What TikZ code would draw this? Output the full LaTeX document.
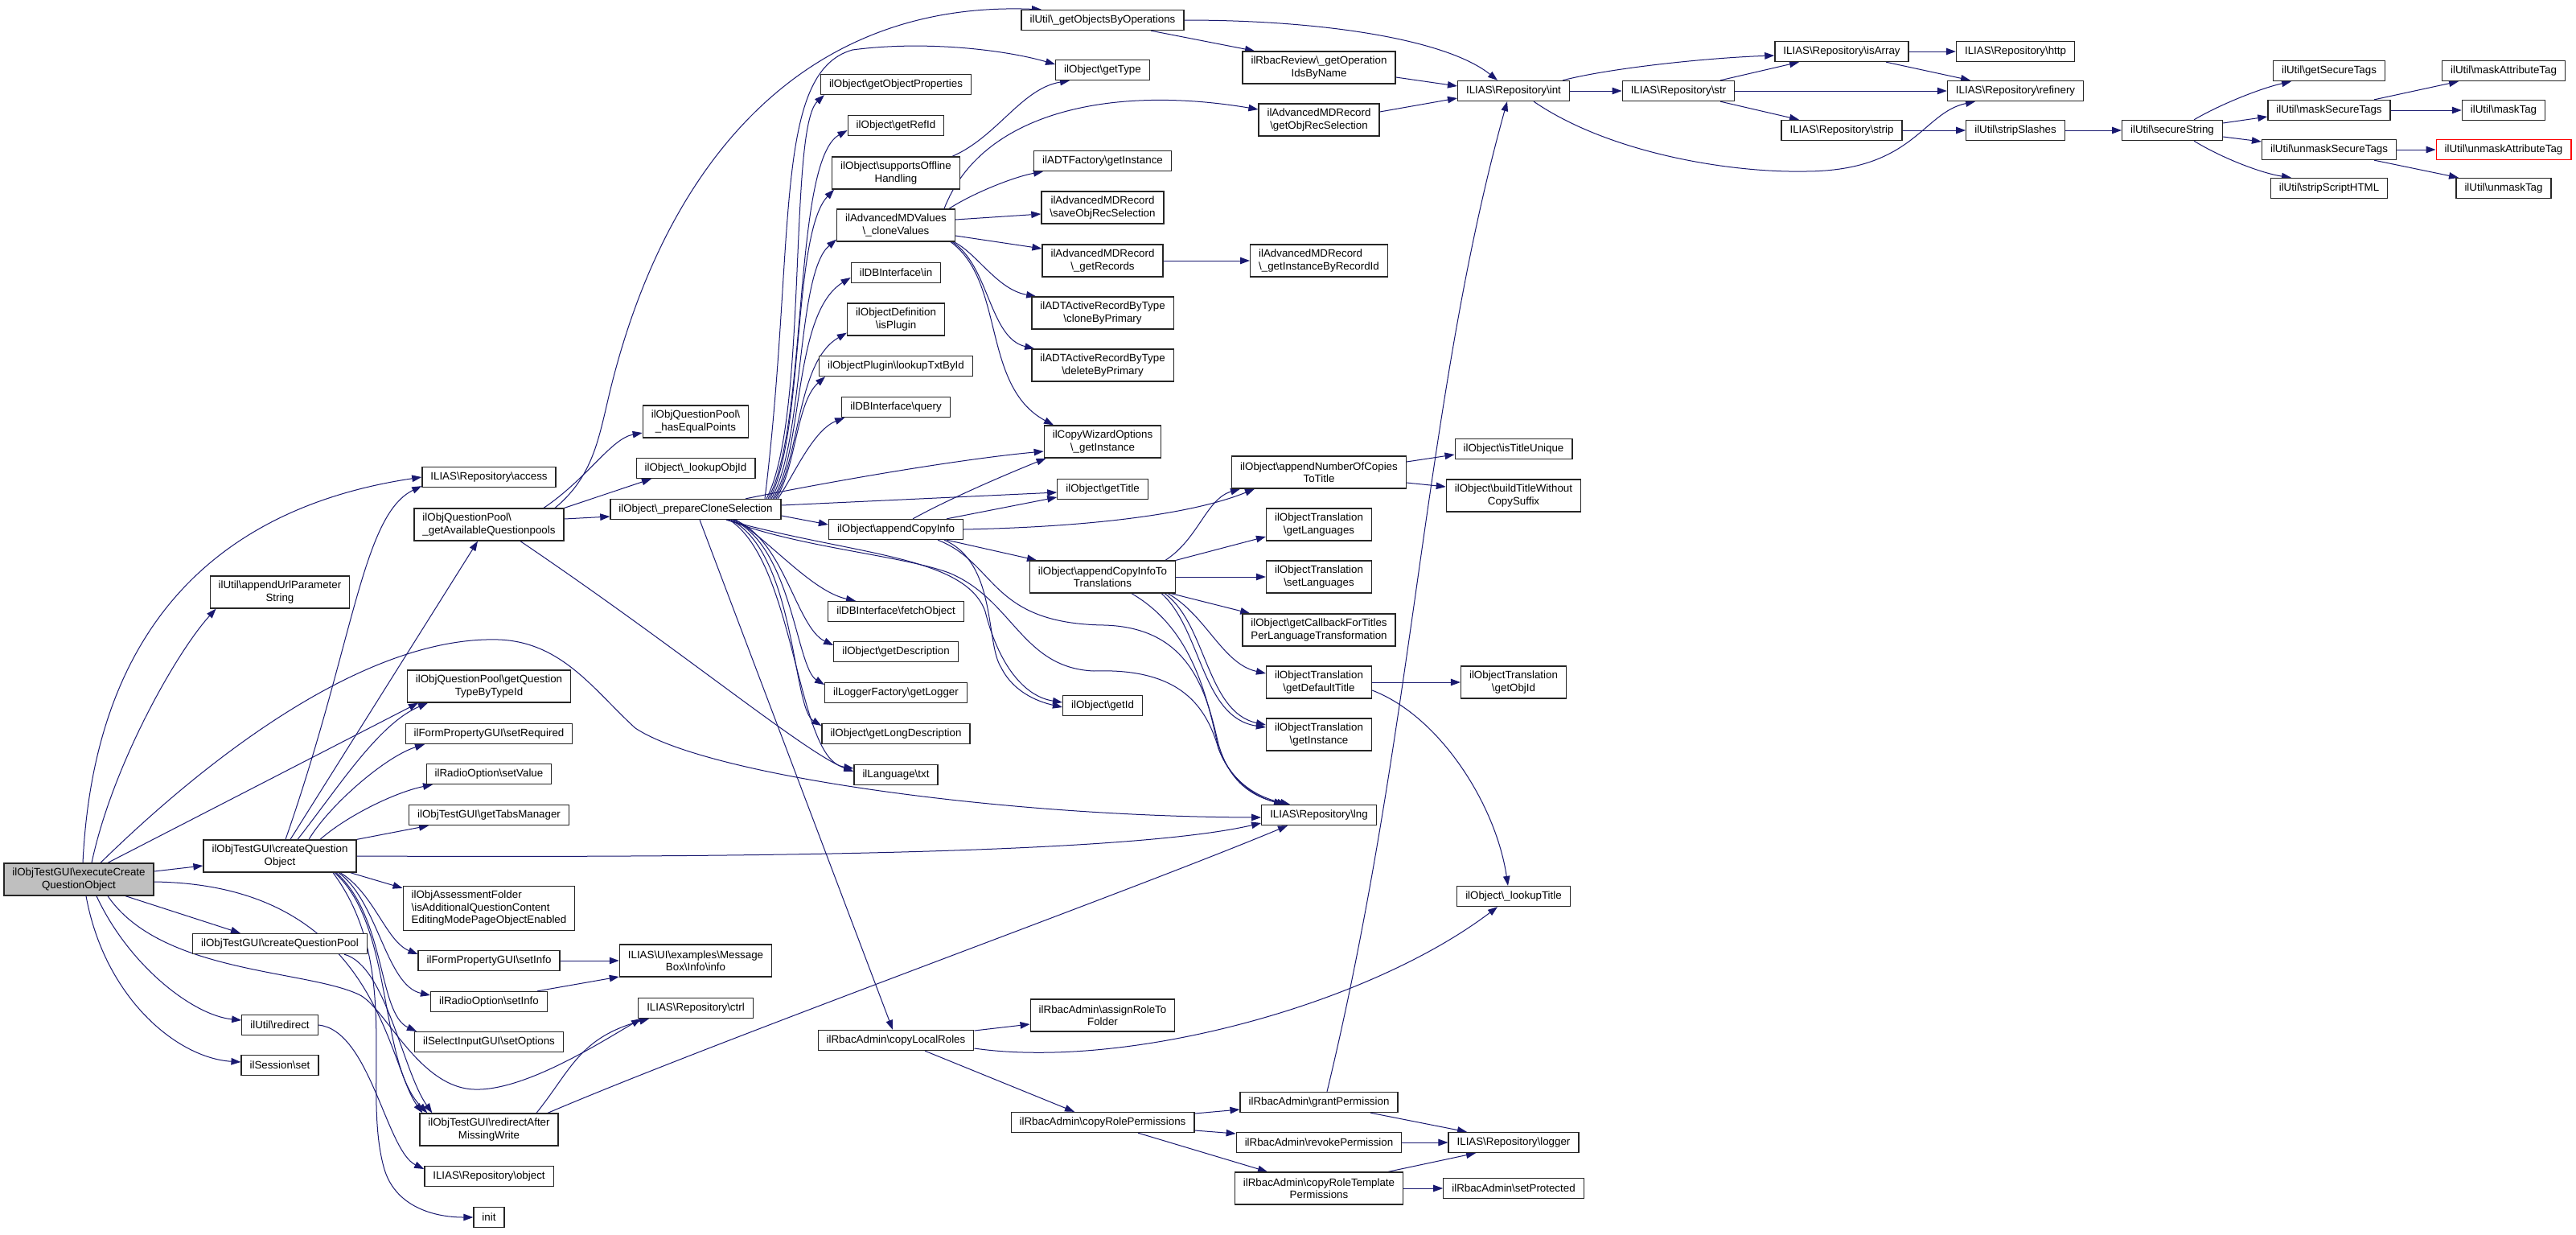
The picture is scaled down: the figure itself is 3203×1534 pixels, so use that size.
\documentclass[tikz,border=0pt]{standalone}
\usepackage{fontspec}
\setmainfont{Liberation Sans}
\usetikzlibrary{arrows.meta}
\definecolor{edgec}{HTML}{191970}
\definecolor{mainfill}{HTML}{BFBFBF}
\newcommand{\bs}{\textbackslash}
\pgfdeclarelayer{bg}
\pgfsetlayers{bg,main}
\begin{document}
\begin{tikzpicture}[x=1pt,y=-1pt,
  nb/.style={draw=black!85, fill=white, line width=1.3pt, inner xsep=10.5pt, inner ysep=0pt,
    minimum height=25pt, font=\fontsize{13.33}{15.5}\selectfont, align=center},
  n2/.style={nb, minimum height=40pt},
  n3/.style={nb, minimum height=55pt},
  ed/.style={draw=edgec, line width=1pt, -{Triangle[length=12pt,width=8.5pt]}}]
\useasboundingbox (0,0) rectangle (3203,1534);
% column 0/1
\node[n2, fill=mainfill] (E) at (98,1093) {ilObjTestGUI\bs executeCreate\\QuestionObject};
\node[n2] (appendUrl) at (348,736) {ilUtil\bs appendUrlParameter\\String};
\node[n2] (C) at (348,1064) {ilObjTestGUI\bs createQuestion\\Object};
\node[nb] (cQP) at (348,1173) {ilObjTestGUI\bs createQuestionPool};
\node[nb] (redirect) at (348,1274) {ilUtil\bs redirect};
\node[nb] (sess) at (348,1324) {ilSession\bs set};
% column 2
\node[nb] (access) at (608,593) {ILIAS\bs Repository\bs access};
\node[n2, align=left] (getAvail) at (608,652) {ilObjQuestionPool\bs\\\_getAvailableQuestionpools};
\node[n2] (getQType) at (608,853) {ilObjQuestionPool\bs getQuestion\\TypeByTypeId};
\node[nb] (setRequired) at (608,912) {ilFormPropertyGUI\bs setRequired};
\node[nb] (setValue) at (608,962) {ilRadioOption\bs setValue};
\node[nb] (getTabs) at (608,1013) {ilObjTestGUI\bs getTabsManager};
\node[n3, align=left] (AF) at (608,1129) {ilObjAssessmentFolder\\\bs isAdditionalQuestionContent\\EditingModePageObjectEnabled};
\node[nb] (setInfoF) at (608,1194) {ilFormPropertyGUI\bs setInfo};
\node[nb] (setInfoR) at (608,1245) {ilRadioOption\bs setInfo};
\node[nb] (setOptions) at (608,1295) {ilSelectInputGUI\bs setOptions};
\node[n2] (redirAfter) at (608,1404) {ilObjTestGUI\bs redirectAfter\\MissingWrite};
\node[nb] (object) at (608,1462) {ILIAS\bs Repository\bs object};
\node[nb] (init) at (608,1513) {init};
% column 3
\node[n2] (hasEq) at (865,524) {ilObjQuestionPool\bs\\\_hasEqualPoints};
\node[nb] (lookupObjId) at (865,582) {ilObject\bs\_lookupObjId};
\node[nb] (P) at (865,633) {ilObject\bs\_prepareCloneSelection};
\node[n2] (MsgInfo) at (865,1194) {ILIAS\bs UI\bs examples\bs Message\\Box\bs Info\bs info};
\node[nb] (ctrl) at (865,1253) {ILIAS\bs Repository\bs ctrl};
% column 4
\node[nb] (gOP) at (1114,105) {ilObject\bs getObjectProperties};
\node[nb] (getRefId) at (1114,156) {ilObject\bs getRefId};
\node[n2] (sOff) at (1114,215) {ilObject\bs supportsOffline\\Handling};
\node[n2] (cV) at (1114,280) {ilAdvancedMDValues\\\bs\_cloneValues};
\node[nb] (dbin) at (1114,339) {ilDBInterface\bs in};
\node[n2] (isPlugin) at (1114,397) {ilObjectDefinition\\\bs isPlugin};
\node[nb] (lookupTxt) at (1114,455) {ilObjectPlugin\bs lookupTxtById};
\node[nb] (query) at (1114,506) {ilDBInterface\bs query};
\node[nb] (ACI) at (1114,658) {ilObject\bs appendCopyInfo};
\node[nb] (fetchObject) at (1114,760) {ilDBInterface\bs fetchObject};
\node[nb] (getDesc) at (1114,810) {ilObject\bs getDescription};
\node[nb] (getLogger) at (1114,861) {ilLoggerFactory\bs getLogger};
\node[nb] (getLongDesc) at (1114,912) {ilObject\bs getLongDescription};
\node[nb] (txt) at (1114,963) {ilLanguage\bs txt};
\node[nb] (cLR) at (1114,1293) {ilRbacAdmin\bs copyLocalRoles};
% column 5
\node[nb] (gOBO) at (1371,25) {ilUtil\bs\_getObjectsByOperations};
\node[nb] (getType) at (1371,87) {ilObject\bs getType};
\node[nb] (ADTF) at (1371,200) {ilADTFactory\bs getInstance};
\node[n2] (saveORS) at (1371,258) {ilAdvancedMDRecord\\\bs saveObjRecSelection};
\node[n2] (getRec) at (1371,324) {ilAdvancedMDRecord\\\bs\_getRecords};
\node[n2] (cBP) at (1371,389) {ilADTActiveRecordByType\\\bs cloneByPrimary};
\node[n2] (dBP) at (1371,454) {ilADTActiveRecordByType\\\bs deleteByPrimary};
\node[n2] (CW) at (1371,549) {ilCopyWizardOptions\\\bs\_getInstance};
\node[nb] (getTitle) at (1371,608) {ilObject\bs getTitle};
\node[n2] (T) at (1371,717) {ilObject\bs appendCopyInfoTo\\Translations};
\node[nb] (getId) at (1371,877) {ilObject\bs getId};
\node[n2] (assignRole) at (1371,1262) {ilRbacAdmin\bs assignRoleTo\\Folder};
\node[nb] (cRP) at (1371,1395) {ilRbacAdmin\bs copyRolePermissions};
% column 6
\node[n2] (getOpIds) at (1640,84) {ilRbacReview\bs\_getOperation\\IdsByName};
\node[n2] (gORS) at (1640,149) {ilAdvancedMDRecord\\\bs getObjRecSelection};
\node[n2, align=left] (gIBR) at (1640,324) {ilAdvancedMDRecord\\\bs\_getInstanceByRecordId};
\node[n2] (appendNum) at (1640,587) {ilObject\bs appendNumberOfCopies\\ToTitle};
\node[n2] (getLang) at (1640,652) {ilObjectTranslation\\\bs getLanguages};
\node[n2] (setLang) at (1640,717) {ilObjectTranslation\\\bs setLanguages};
\node[n2] (getCB) at (1640,783) {ilObject\bs getCallbackForTitles\\PerLanguageTransformation};
\node[n2] (getDT) at (1640,848) {ilObjectTranslation\\\bs getDefaultTitle};
\node[n2] (OTgI) at (1640,913) {ilObjectTranslation\\\bs getInstance};
\node[nb] (lng) at (1640,1013) {ILIAS\bs Repository\bs lng};
\node[nb] (grant) at (1640,1370) {ilRbacAdmin\bs grantPermission};
\node[nb] (revoke) at (1640,1420) {ilRbacAdmin\bs revokePermission};
\node[n2] (cRT) at (1640,1477) {ilRbacAdmin\bs copyRoleTemplate\\Permissions};
% column 7
\node[nb] (rint) at (1882,113) {ILIAS\bs Repository\bs int};
\node[nb] (isTU) at (1882,558) {ilObject\bs isTitleUnique};
\node[n2] (buildT) at (1882,616) {ilObject\bs buildTitleWithout\\CopySuffix};
\node[n2] (getObjId) at (1882,848) {ilObjectTranslation\\\bs getObjId};
\node[nb] (lookupTitle) at (1882,1114) {ilObject\bs\_lookupTitle};
\node[nb] (logger) at (1882,1420) {ILIAS\bs Repository\bs logger};
\node[nb] (setProt) at (1882,1477) {ilRbacAdmin\bs setProtected};
% columns 8-13
\node[nb] (str) at (2087,113) {ILIAS\bs Repository\bs str};
\node[nb] (isArray) at (2290,64) {ILIAS\bs Repository\bs isArray};
\node[nb] (strip) at (2290,162) {ILIAS\bs Repository\bs strip};
\node[nb] (http) at (2506,64) {ILIAS\bs Repository\bs http};
\node[nb] (refinery) at (2506,113) {ILIAS\bs Repository\bs refinery};
\node[nb] (stripSl) at (2506,162) {ilUtil\bs stripSlashes};
\node[nb] (secStr) at (2701,162) {ilUtil\bs secureString};
\node[nb] (getST) at (2896,88) {ilUtil\bs getSecureTags};
\node[nb] (maskST) at (2896,137) {ilUtil\bs maskSecureTags};
\node[nb] (unmaskST) at (2896,186) {ilUtil\bs unmaskSecureTags};
\node[nb] (stripSH) at (2896,234) {ilUtil\bs stripScriptHTML};
\node[nb] (maskAT) at (3113,88) {ilUtil\bs maskAttributeTag};
\node[nb] (maskTag) at (3113,137) {ilUtil\bs maskTag};
\node[nb, draw=red] (unmaskAT) at (3113,186) {ilUtil\bs unmaskAttributeTag};
\node[nb] (unmaskTag) at (3113,234) {ilUtil\bs unmaskTag};

\begin{pgfonlayer}{bg}
\fill[white] (0,0) rectangle (3203,1534);
% executeCreateQuestionObject
\draw[ed] ([xshift=5pt]E.north) .. controls (118,760) and (290,628) .. (access.west);
\draw[ed] ([xshift=16pt]E.north) .. controls (140,950) and (220,810) .. ([xshift=8pt]appendUrl.south west);
\draw[ed] ([xshift=36pt]E.north) -- ([xshift=-88pt]getQType.south);
\draw[ed] ([xshift=27pt]E.north) .. controls (250,950) and (450,790) .. (620,795) .. controls (700,798) and (740,860) .. (790,905) .. controls (880,965) and (1250,1015) .. ([yshift=-3pt]lng.west);
\draw[ed] ([yshift=10pt]E.east) -- ([yshift=-12pt]C.west);
\draw[ed] ([xshift=58pt]E.south) -- ([xshift=-49pt]cQP.north);
\draw[ed] ([xshift=22pt]E.south) .. controls (160,1200) and (240,1262) .. ([yshift=6pt]redirect.west);
\draw[ed] ([xshift=9pt]E.south) .. controls (130,1240) and (220,1315) .. ([yshift=4pt]sess.west);
\draw[ed] ([xshift=36pt]E.south) .. controls (200,1210) and (380,1205) .. (446,1236) .. controls (479,1251) and (520,1352) .. (590,1354) .. controls (650,1356) and (740,1300) .. ([xshift=-68pt]ctrl.south);
\draw[ed] ([yshift=-3pt]E.east) .. controls (470,1100) and (480,1320) .. ([xshift=4pt]redirAfter.north west);
% createQuestionObject
\draw[ed] ([xshift=13pt]C.north) -- ([xshift=-14pt]getAvail.south);
\draw[ed] ([xshift=7pt]C.north) .. controls (440,800) and (450,640) .. ([yshift=2pt]access.south west);
\draw[ed] ([xshift=22pt]C.north) .. controls (420,980) and (470,900) .. ([xshift=-76pt]getQType.south);
\draw[ed] ([xshift=36pt]C.north) .. controls (410,1000) and (480,940) .. ([xshift=-80pt]setRequired.south);
\draw[ed] ([xshift=50pt]C.north) .. controls (430,1015) and (490,985) .. ([xshift=-70pt]setValue.south);
\draw[ed] (C.north east) -- ([xshift=-75pt]getTabs.south);
\draw[ed] (C.east) .. controls (900,1066) and (1400,1062) .. ([yshift=-10pt]lng.west);
\draw[ed] ([xshift=-8pt]C.south east) -- ([yshift=-3pt]AF.north west);
\draw[ed] ([xshift=75pt]C.south) .. controls (465,1110) and (480,1170) .. ([yshift=8pt]setInfoF.west);
\draw[ed] ([xshift=73pt]C.south) .. controls (470,1120) and (480,1225) .. ([yshift=8pt]setInfoR.west);
\draw[ed] ([xshift=70pt]C.south) .. controls (480,1140) and (470,1260) .. ([xshift=3pt]setOptions.north west);
\draw[ed] ([xshift=68pt]C.south) .. controls (490,1150) and (470,1320) .. ([xshift=10pt]redirAfter.north west);
\draw[ed] ([xshift=66pt]C.south) .. controls (500,1200) and (450,1350) .. (477,1450) .. controls (490,1500) and (540,1513) .. (init.west);
% others left
\draw[ed] ([xshift=80pt]cQP.south) .. controls (480,1200) and (500,1330) .. ([xshift=16pt]redirAfter.north west);
\draw[ed] (redirect.east) .. controls (460,1280) and (480,1430) .. ([yshift=9pt]object.west);
\draw[ed] (setInfoF.east) -- (MsgInfo.west);
\draw[ed] ([xshift=60pt]setInfoR.north) -- ([yshift=-20pt]MsgInfo.west);
\draw[ed] ([xshift=59pt]redirAfter.north) .. controls (710,1330) and (720,1290) .. ([xshift=-58pt]ctrl.south);
\draw[ed] ([xshift=73pt]redirAfter.north) .. controls (900,1290) and (1400,1110) .. ([xshift=-39pt]lng.south);
% getAvailableQuestionpools
\draw[ed] ([xshift=82pt]getAvail.north) .. controls (740,590) and (745,540) .. (760,480) .. controls (830,200) and (1000,0) .. ([xshift=-76pt]gOBO.north);
\draw[ed] ([xshift=68pt]getAvail.north) .. controls (730,595) and (760,545) .. ([yshift=-14pt]hasEq.west);
\draw[ed] (getAvail.north east) -- ([xshift=-55pt]lookupObjId.south);
\draw[ed] ([yshift=7pt]getAvail.east) -- ([yshift=-9pt]P.west);
\draw[ed] ([xshift=39pt]getAvail.south) .. controls (850,810) and (1000,935) .. ([yshift=4pt]txt.west);
% prepareCloneSelection
\draw[ed] ([xshift=88pt]P.north) .. controls (1005,520) and (980,160) .. ([xshift=5pt]gOP.south west);
\draw[ed] ([xshift=90pt]P.north) .. controls (1005,530) and (985,200) .. ([yshift=-6pt]getRefId.west);
\draw[ed] ([xshift=92pt]P.north) .. controls (1000,540) and (985,290) .. ([xshift=3pt]sOff.south west);
\draw[ed] ([xshift=94pt]P.north) .. controls (1000,550) and (990,340) .. ([yshift=3pt]cV.south west);
\draw[ed] ([xshift=96pt]P.north) .. controls (1000,560) and (985,390) .. ([yshift=-6pt]dbin.west);
\draw[ed] ([xshift=98pt]P.north) .. controls (995,570) and (990,450) .. ([yshift=4pt]isPlugin.south west);
\draw[ed] ([xshift=100pt]P.north) .. controls (990,580) and (990,500) .. ([xshift=8pt]lookupTxt.south west);
\draw[ed] ([xshift=102pt]P.north) .. controls (985,595) and (1010,535) .. ([xshift=4pt]query.south west);
\draw[ed] ([xshift=86pt]P.north) .. controls (990,300) and (960,90) .. (1060,62) .. controls (1150,50) and (1250,62) .. ([yshift=7pt]getType.west);
\draw[ed] ([xshift=62pt]P.north) .. controls (1050,595) and (1200,570) .. ([yshift=-12pt]CW.west);
\draw[ed] ([yshift=5pt]P.east) -- ([yshift=-4pt]getTitle.west);
\draw[ed] ([yshift=-8pt]P.east) -- ([yshift=6pt]ACI.west);
\draw[ed] ([xshift=50pt]P.south) .. controls (960,675) and (1010,735) .. ([xshift=-50pt]fetchObject.north);
\draw[ed] ([xshift=48pt]P.south) .. controls (975,670) and (990,780) .. ([yshift=8pt]getDesc.west);
\draw[ed] ([xshift=46pt]P.south) .. controls (985,680) and (990,830) .. ([yshift=10pt]getLogger.west);
\draw[ed] ([xshift=44pt]P.south) .. controls (990,690) and (985,880) .. ([yshift=10pt]getLongDesc.west);
\draw[ed] ([xshift=42pt]P.south) .. controls (990,700) and (990,945) .. ([yshift=8pt]txt.west);
\draw[ed] ([xshift=38pt]P.south) .. controls (1060,690) and (1200,690) .. (1225,760) .. controls (1240,820) and (1270,865) .. ([yshift=4pt]getId.west);
\draw[ed] ([xshift=40pt]P.south) .. controls (990,680) and (1120,690) .. (1180,712) .. controls (1260,745) and (1270,830) .. (1360,834) .. controls (1470,830) and (1500,880) .. (1515,930) .. controls (1530,970) and (1560,990) .. ([xshift=-44pt]lng.north);
\draw[ed] ([xshift=5pt]P.south) -- ([xshift=-4pt]cLR.north);
% appendCopyInfo
\draw[ed] ([xshift=21pt]ACI.north) .. controls (1180,620) and (1250,590) .. ([xshift=3pt]CW.south west);
\draw[ed] ([xshift=63pt]ACI.north) -- ([yshift=-10pt]getTitle.west);
\draw[ed] (ACI.east) .. controls (1350,655) and (1480,640) .. ([xshift=-80pt]appendNum.south);
\draw[ed] ([xshift=63pt]ACI.south) -- ([xshift=-82pt]T.north);
\draw[ed] ([xshift=60pt]ACI.south) .. controls (1240,700) and (1225,800) .. (1245,830) .. controls (1260,860) and (1290,872) .. ([yshift=-2pt]getId.west);
\draw[ed] ([xshift=52pt]ACI.south) .. controls (1240,700) and (1230,775) .. (1373,777) .. controls (1480,780) and (1500,860) .. (1515,925) .. controls (1528,970) and (1555,990) .. ([xshift=-40pt]lng.north);
% appendCopyInfoToTranslations
\draw[ed] ([xshift=78pt]T.north) .. controls (1490,670) and (1500,620) .. ([xshift=-98pt]appendNum.south);
\draw[ed] (T.north east) -- ([yshift=-15pt]getLang.west);
\draw[ed] (T.east) -- (setLang.west);
\draw[ed] ([xshift=-6pt]T.south east) -- ([xshift=10pt]getCB.north west);
\draw[ed] ([xshift=-10pt]T.south east) .. controls (1500,765) and (1520,825) .. ([yshift=11pt]getDT.west);
\draw[ed] ([xshift=-14pt]T.south east) .. controls (1500,775) and (1500,885) .. ([yshift=12pt]OTgI.west);
\draw[ed] ([xshift=-18pt]T.south east) .. controls (1494,782) and (1494,892) .. ([yshift=9pt]OTgI.west);
\draw[ed] ([xshift=36pt]T.south) .. controls (1480,780) and (1500,860) .. (1515,930) .. controls (1530,970) and (1560,990) .. ([xshift=-36pt]lng.north);
\draw[ed] ([yshift=13pt]appendNum.east) -- ([yshift=-7pt]isTU.west);
\draw[ed] ([yshift=-13pt]appendNum.east) -- ([yshift=11pt]buildT.west);
\draw[ed] (getDT.east) -- (getObjId.west);
\draw[ed] ([yshift=-10pt]getDT.east) .. controls (1790,890) and (1860,1000) .. ([xshift=-7pt]lookupTitle.north);
% copyLocalRoles and rbac
\draw[ed] ([yshift=12pt]cLR.east) -- ([yshift=-11pt]assignRole.west);
\draw[ed] ([yshift=-10pt]cLR.east) .. controls (1400,1330) and (1700,1250) .. ([xshift=-20pt]lookupTitle.south);
\draw[ed] ([xshift=36pt]cLR.south) -- ([xshift=-35pt]cRP.north);
\draw[ed] ([yshift=11pt]cRP.east) -- ([yshift=-9pt]grant.west);
\draw[ed] ([yshift=-10pt]cRP.east) -- ([yshift=11pt]revoke.west);
\draw[ed] ([xshift=44pt]cRP.south) -- ([xshift=-64pt]cRT.north);
\draw[ed] ([xshift=64pt]grant.south) -- ([xshift=-58pt]logger.north);
\draw[ed] ([xshift=10pt]grant.north) .. controls (1760,900) and (1770,500) .. ([xshift=-8pt]rint.south);
\draw[ed] (revoke.east) -- (logger.west);
\draw[ed] ([xshift=86pt]cRT.north) -- ([xshift=-47pt]logger.south);
\draw[ed] (cRT.east) -- (setProt.west);
% upper middle
\draw[ed] ([xshift=60pt]gOBO.south) -- ([xshift=-80pt]getOpIds.north);
\draw[ed] (gOBO.east) .. controls (1650,25) and (1800,50) .. ([xshift=-20pt]rint.north);
\draw[ed] ([yshift=-12pt]getOpIds.east) -- ([yshift=6pt]rint.west);
\draw[ed] ([yshift=10pt]gORS.east) -- ([yshift=-9pt]rint.west);
\draw[ed] ([xshift=70pt]sOff.north) .. controls (1240,170) and (1270,110) .. ([xshift=-41pt]getType.south);
\draw[ed] ([xshift=60pt]cV.north) .. controls (1220,140) and (1380,105) .. ([yshift=13pt]gORS.west);
\draw[ed] ([xshift=66pt]cV.north) .. controls (1210,240) and (1260,220) .. ([xshift=-74pt]ADTF.south);
\draw[ed] ([yshift=7pt]cV.east) -- ([yshift=-8pt]saveORS.west);
\draw[ed] ([yshift=-13pt]cV.east) -- ([yshift=15pt]getRec.west);
\draw[ed] ([xshift=72pt]cV.south) .. controls (1215,315) and (1240,360) .. ([xshift=6pt]cBP.north west);
\draw[ed] ([xshift=70pt]cV.south) .. controls (1230,330) and (1230,420) .. ([xshift=4pt]dBP.north west);
\draw[ed] ([xshift=68pt]cV.south) .. controls (1250,350) and (1220,480) .. ([xshift=-61pt]CW.north);
\draw[ed] (getRec.east) -- (gIBR.west);
% right part
\draw[ed] (rint.east) -- (str.west);
\draw[ed] ([xshift=61pt]rint.north) .. controls (2000,85) and (2120,72) .. ([yshift=-5pt]isArray.west);
\draw[ed] ([xshift=25pt]rint.south) .. controls (2000,190) and (2150,215) .. (2246,213) .. controls (2380,212) and (2390,140) .. ([xshift=-50pt]refinery.south);
\draw[ed] ([xshift=52pt]str.north) -- ([xshift=-53pt]isArray.south);
\draw[ed] (str.east) -- (refinery.west);
\draw[ed] ([xshift=52pt]str.south) -- ([xshift=-53pt]strip.north);
\draw[ed] (isArray.east) -- (http.west);
\draw[ed] ([xshift=55pt]isArray.south) -- ([xshift=-56pt]refinery.north);
\draw[ed] (strip.east) -- (stripSl.west);
\draw[ed] (stripSl.east) -- (secStr.west);
\draw[ed] ([xshift=27pt]secStr.north) .. controls (2760,130) and (2810,110) .. ([xshift=-47pt]getST.south);
\draw[ed] ([yshift=9pt]secStr.east) -- ([yshift=-8pt]maskST.west);
\draw[ed] ([yshift=-8pt]secStr.east) -- ([yshift=10pt]unmaskST.west);
\draw[ed] ([xshift=27pt]secStr.south) .. controls (2760,195) and (2810,215) .. ([xshift=-47pt]stripSH.north);
\draw[ed] ([xshift=56pt]maskST.north) -- ([xshift=-56pt]maskAT.south);
\draw[ed] (maskST.east) -- (maskTag.west);
\draw[ed] (unmaskST.east) -- (unmaskAT.west);
\draw[ed] ([xshift=56pt]unmaskST.south) -- ([xshift=-56pt]unmaskTag.north);
\end{pgfonlayer}
\end{tikzpicture}
\end{document}
